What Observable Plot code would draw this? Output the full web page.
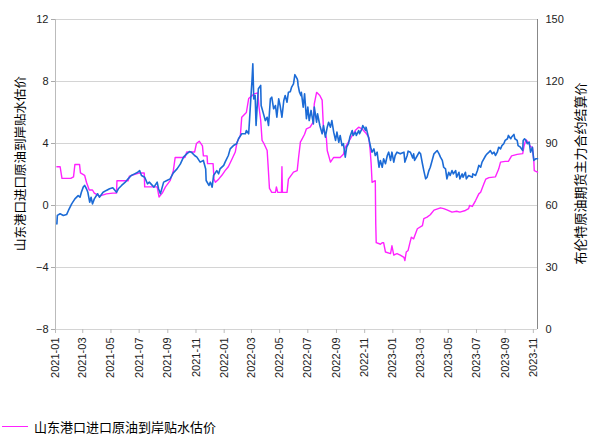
<!DOCTYPE html>
<html>
<head>
<meta charset="utf-8">
<script src="https://cdn.jsdelivr.net/npm/d3@7"></script>
<script src="https://cdn.jsdelivr.net/npm/@observablehq/plot@0.6"></script>
<style>
body { margin:0; background:#fff; }
#wrap { position:relative; width:599px; height:435px; overflow:hidden; }
#legend { position:absolute; left:2px; top:419px; height:15px; line-height:15px; display:flex; align-items:center; font:13px "Noto Sans CJK SC", sans-serif; color:#000; }
#legend .sw { width:26px; height:0; border-top:1.6px solid #f2f; margin-right:6px; }
</style>
</head>
<body>
<div id="wrap"><div id="chart"></div><div id="legend"><span class="sw"></span><span>山东港口进口原油到岸贴水估价</span></div></div>
<script>
// 山东港口进口原油到岸贴水估价 (left axis)
const premiumData = [
["2021-01-04",2.5],["2021-01-11",2.5],["2021-01-15",1.75],["2021-02-03",1.75],["2021-02-09",1.85],
["2021-02-12",2.65],["2021-02-22",2.65],["2021-02-24",2.1],["2021-03-05",1.95],["2021-03-09",1.5],
["2021-03-15",1.0],["2021-03-22",1.0],["2021-03-26",0.8],["2021-04-06",0.6],["2021-04-21",0.75],
["2021-05-05",0.8],["2021-05-13",0.8],["2021-05-14",1.6],["2021-06-07",1.6],["2021-06-10",1.9],
["2021-07-02",2.1],["2021-07-12",2.1],["2021-07-13",1.2],["2021-08-09",1.2],["2021-08-13",0.55],
["2021-08-20",0.8],["2021-08-27",1.2],["2021-09-06",1.6],["2021-09-13",2.25],["2021-09-17",3.1],
["2021-10-08",3.1],["2021-10-12",3.45],["2021-10-29",3.45],["2021-11-02",4.0],["2021-11-08",4.15],
["2021-11-15",3.85],["2021-11-17",3.2],["2021-11-25",3.2],["2021-11-26",2.7],["2021-12-08",2.7],
["2021-12-10",1.7],["2021-12-13",1.5],["2021-12-20",1.7],["2021-12-27",1.95],["2022-01-03",2.25],
["2022-01-10",2.5],["2022-01-18",3.0],["2022-01-25",3.45],["2022-01-29",4.1],["2022-02-05",4.5],
["2022-02-08",5.7],["2022-02-18",6.0],["2022-02-23",6.9],["2022-03-07",7.2],["2022-03-15",7.27],
["2022-03-17",6.45],["2022-03-21",5.5],["2022-03-24",4.2],["2022-03-28",4.0],["2022-04-04",3.55],
["2022-04-06",2.6],["2022-04-09",1.1],["2022-04-14",0.85],["2022-04-22",0.85],["2022-04-24",1.2],
["2022-04-27",0.85],["2022-05-05",0.85],["2022-05-06",2.5],["2022-05-07",0.85],["2022-05-17",0.85],
["2022-05-20",1.7],["2022-05-31",2.15],["2022-06-08",2.25],["2022-06-11",3.1],["2022-06-15",4.1],
["2022-06-17",4.2],["2022-06-24",4.6],["2022-06-28",4.95],["2022-07-06",5.05],["2022-07-13",5.4],
["2022-07-15",6.55],["2022-07-20",7.3],["2022-07-27",7.1],["2022-08-01",6.8],["2022-08-04",4.85],
["2022-08-10",4.4],["2022-08-12",3.55],["2022-08-19",2.8],["2022-08-26",3.1],["2022-09-09",3.1],
["2022-09-16",3.3],["2022-09-20",3.75],["2022-09-27",4.1],["2022-10-05",4.5],["2022-10-12",4.85],
["2022-10-19",5.05],["2022-10-26",4.95],["2022-11-03",4.7],["2022-11-10",4.4],["2022-11-13",3.55],
["2022-11-15",2.7],["2022-11-17",1.5],["2022-11-24",1.6],["2022-11-25",-1.2],["2022-11-26",-2.4],
["2022-12-01",-2.45],["2022-12-05",-2.5],["2022-12-09",-2.4],["2022-12-12",-2.4],["2022-12-16",-3.0],
["2022-12-27",-3.1],["2022-12-30",-2.6],["2023-01-03",-3.2],["2023-01-06",-3.15],["2023-01-10",-3.1],
["2023-01-17",-3.2],["2023-01-25",-3.35],["2023-01-27",-3.55],["2023-01-30",-3.0],["2023-02-03",-2.9],
["2023-02-07",-2.4],["2023-02-10",-2.05],["2023-02-15",-2.15],["2023-02-23",-1.5],["2023-03-06",-1.3],
["2023-03-09",-0.85],["2023-03-16",-0.75],["2023-03-23",-0.6],["2023-03-31",-0.3],["2023-04-14",-0.15],
["2023-04-21",-0.2],["2023-04-28",-0.28],["2023-05-09",-0.43],["2023-05-19",-0.37],["2023-05-26",-0.43],
["2023-06-07",-0.32],["2023-06-14",-0.2],["2023-06-16",0.0],["2023-06-22",-0.06],["2023-06-29",0.32],
["2023-07-06",0.75],["2023-07-10",0.85],["2023-07-17",1.4],["2023-07-21",1.7],["2023-07-28",1.8],
["2023-08-11",1.85],["2023-08-18",2.35],["2023-08-22",2.8],["2023-09-01",2.85],["2023-09-08",2.85],
["2023-09-15",3.2],["2023-09-27",3.3],["2023-10-09",3.35],["2023-10-12",3.85],["2023-10-16",4.25],
["2023-10-19",4.15],["2023-10-26",3.8],["2023-10-30",3.75],["2023-11-02",2.9],["2023-11-03",2.25],
["2023-11-10",2.15]
];
// 布伦特原油期货主力合约结算价 (right axis)
const brentData = [
["2021-01-04",51.1],["2021-01-05",55.2],["2021-01-11",56],["2021-01-18",55.2],["2021-01-25",55.6],
["2021-01-29",57.6],["2021-02-05",60.8],["2021-02-12",63.2],["2021-02-19",64.8],["2021-02-23",64],
["2021-02-26",66.4],["2021-03-02",68.9],["2021-03-05",69.7],["2021-03-09",68.1],["2021-03-12",66.4],
["2021-03-16",61.6],["2021-03-19",64],["2021-03-22",60.8],["2021-03-26",63.2],["2021-04-02",65.7],
["2021-04-06",64],["2021-04-14",66.4],["2021-04-21",67.3],["2021-04-28",68.1],["2021-05-05",68.6],
["2021-05-13",66.4],["2021-05-17",68.1],["2021-05-24",69.7],["2021-06-01",71.3],["2021-06-07",72.9],
["2021-06-14",74.5],["2021-06-21",75.3],["2021-06-28",76.1],["2021-07-02",76.9],["2021-07-06",74.5],
["2021-07-13",73.7],["2021-07-19",70.5],["2021-07-23",71.3],["2021-08-02",68.9],["2021-08-09",71.3],
["2021-08-12",68.1],["2021-08-16",65.7],["2021-08-23",71.3],["2021-08-30",72.1],["2021-09-06",72.9],
["2021-09-13",75.8],["2021-09-21",77.7],["2021-09-28",80],["2021-10-05",83.4],["2021-10-12",85],
["2021-10-18",86.1],["2021-10-22",85.8],["2021-10-29",84.2],["2021-11-03",83.4],["2021-11-10",81],
["2021-11-17",81.8],["2021-11-22",77.7],["2021-11-23",72.1],["2021-11-29",69.7],["2021-12-02",71.3],
["2021-12-06",68.9],["2021-12-09",74.5],["2021-12-16",76.9],["2021-12-20",75.3],["2021-12-23",77.7],
["2021-12-31",79.4],["2022-01-03",81],["2022-01-10",84.2],["2022-01-14",87.4],["2022-01-21",89],
["2022-01-28",89.9],["2022-02-01",92.3],["2022-02-08",94.7],["2022-02-16",94.7],["2022-02-18",96.3],
["2022-02-23",94.7],["2022-02-25",101.9],["2022-03-01",116.5],["2022-03-02",119.7],["2022-03-04",128.6],
["2022-03-06",111.6],["2022-03-09",113.2],["2022-03-11",98.7],["2022-03-14",110],["2022-03-16",116.5],
["2022-03-21",118.1],["2022-03-22",108.4],["2022-03-28",103.6],["2022-03-31",101.1],["2022-04-04",102.7],
["2022-04-07",98.7],["2022-04-11",111.6],["2022-04-14",112.4],["2022-04-18",106.8],["2022-04-22",108.4],
["2022-04-25",102.7],["2022-04-29",111.6],["2022-05-02",108.4],["2022-05-06",102.7],["2022-05-10",110.8],
["2022-05-13",113.2],["2022-05-17",110],["2022-05-20",114.8],["2022-05-24",115],["2022-05-27",117.3],
["2022-05-31",118.9],["2022-06-03",123.3],["2022-06-08",121.3],["2022-06-09",120.5],["2022-06-10",118.1],
["2022-06-13",114.8],["2022-06-16",113.2],["2022-06-17",114.8],["2022-06-21",107.6],["2022-06-24",114],
["2022-06-28",102],["2022-07-01",107.6],["2022-07-04",101.1],["2022-07-08",106],["2022-07-13",99.5],
["2022-07-15",107.6],["2022-07-20",100.3],["2022-07-22",104.4],["2022-07-27",98.7],["2022-08-01",94.7],
["2022-08-04",98.7],["2022-08-08",93.1],["2022-08-12",97.9],["2022-08-15",100.3],["2022-08-19",97.9],
["2022-08-22",101.1],["2022-08-26",95.5],["2022-08-30",91.5],["2022-09-02",95.5],["2022-09-06",90.6],
["2022-09-09",93.9],["2022-09-13",89],["2022-09-16",89.9],["2022-09-20",83.4],["2022-09-23",88.2],
["2022-09-27",89.9],["2022-09-30",93.1],["2022-10-05",96.3],["2022-10-07",93.9],["2022-10-12",95.5],
["2022-10-14",93.9],["2022-10-19",96.3],["2022-10-21",94.7],["2022-10-26",97.1],["2022-10-28",98.7],
["2022-11-03",96.3],["2022-11-04",97.9],["2022-11-10",92.3],["2022-11-14",88.2],["2022-11-17",85.8],
["2022-11-21",87.4],["2022-11-24",84.2],["2022-11-28",85.8],["2022-12-02",78.5],["2022-12-05",81.8],
["2022-12-09",78.5],["2022-12-12",82.6],["2022-12-16",80.2],["2022-12-20",84.2],["2022-12-23",85.8],
["2022-12-27",81.8],["2022-12-30",85.8],["2023-01-03",81],["2023-01-06",84.2],["2023-01-10",85.8],
["2023-01-17",85],["2023-01-25",85.8],["2023-01-27",81],["2023-02-01",84.2],["2023-02-03",86.3],
["2023-02-08",85.8],["2023-02-13",83],["2023-02-15",85],["2023-02-17",81.8],["2023-02-23",84.2],
["2023-02-27",85.8],["2023-03-02",85],["2023-03-06",80.2],["2023-03-09",76.9],["2023-03-13",72.9],
["2023-03-16",73.7],["2023-03-20",76.9],["2023-03-23",78.5],["2023-03-27",81.8],["2023-03-31",85],
["2023-04-07",86.6],["2023-04-11",85],["2023-04-14",83.4],["2023-04-18",81.8],["2023-04-21",78.5],
["2023-04-25",77.7],["2023-04-28",72.9],["2023-05-02",76.1],["2023-05-05",74.5],["2023-05-09",76.9],
["2023-05-12",75.3],["2023-05-17",76.9],["2023-05-19",73.7],["2023-05-24",76.1],["2023-05-26",72.9],
["2023-05-31",75.3],["2023-06-02",73.7],["2023-06-07",76.1],["2023-06-09",72.9],["2023-06-14",74.5],
["2023-06-22",73.7],["2023-06-23",75.3],["2023-06-29",74.5],["2023-07-03",76.9],["2023-07-06",79.4],
["2023-07-10",78.5],["2023-07-13",81],["2023-07-21",84.2],["2023-07-24",85],["2023-07-28",85.8],
["2023-07-31",86.6],["2023-08-04",85],["2023-08-08",85.8],["2023-08-11",84.2],["2023-08-15",85.8],
["2023-08-18",88.2],["2023-08-22",87.4],["2023-08-25",89],["2023-08-29",89.9],["2023-09-01",91.5],
["2023-09-06",92.3],["2023-09-08",93.9],["2023-09-13",92.3],["2023-09-15",93.1],["2023-09-20",94.4],
["2023-09-22",92.3],["2023-09-27",91.5],["2023-09-29",89],["2023-10-04",88.2],["2023-10-09",86.6],
["2023-10-10",91.5],["2023-10-13",92.3],["2023-10-16",91.5],["2023-10-19",89.9],["2023-10-23",90.7],
["2023-10-26",85.8],["2023-10-30",88.2],["2023-11-02",81.8],["2023-11-06",82.6],["2023-11-10",82.6]
];
const leftTicks = [-8, -4, 0, 4, 8, 12];
const rightTicks = [0, 30, 60, 90, 120, 150];
const leftTitle = "山东港口进口原油到岸贴水估价";
const rightTitle = "布伦特原油期货主力合约结算价";
const xStart = "2021-01-01", xEnd = "2023-11-10";

const parse = d3.utcParse("%Y-%m-%d");
const prem = premiumData.map(([d, v]) => ({date: parse(d), v}));
const brent = brentData.map(([d, v]) => ({date: parse(d), v}));
// map right-axis values (0..150) onto the left scale (-8..12)
const toLeft = b => b / 7.5 - 8;
const fromLeft = v => Math.round((v + 8) * 7.5);
const domainX = [parse(xStart), parse(xEnd)];

const chart = Plot.plot({
  width: 599,
  height: 412,
  marginLeft: 55,
  marginRight: 62,
  marginTop: 19,
  marginBottom: 83,
  style: {fontFamily: "'Liberation Sans', sans-serif", fontSize: "11px", color: "#222"},
  x: {type: "utc", domain: domainX},
  y: {domain: [-8, 12]},
  marks: [
    Plot.gridY(leftTicks, {stroke: "#d4d4d4", strokeOpacity: 1}),
    Plot.ruleX([domainX[0]], {stroke: "#bbb"}),
    Plot.ruleX([domainX[1]], {stroke: "#888"}),
    Plot.axisY(leftTicks, {anchor: "left", tickSize: 4, stroke: "#aaa", tickPadding: 3, label: null, fill: "#222"}),
    Plot.axisY(rightTicks.map(toLeft), {anchor: "right", tickSize: 0, tickPadding: 8, tickFormat: fromLeft, label: null, fill: "#222"}),
    Plot.axisX({ticks: d3.utcMonth.every(2), tickFormat: d3.utcFormat("%Y-%m"), tickRotate: -90, tickSize: 4, tickPadding: 4, stroke: "#bbb", label: null, fill: "#222"}),
    Plot.line(prem, {x: "date", y: "v", stroke: "#f2f", strokeWidth: 1.4}),
    Plot.line(brent, {x: "date", y: d => toLeft(d.v), stroke: "#1c6bd6", strokeWidth: 1.6}),
    Plot.text([leftTitle], {frameAnchor: "left", textAnchor: "middle", dx: -35, dy: -11, rotate: -90, text: d => d, fontSize: 12.5, fontFamily: "'Noto Sans CJK SC', sans-serif", fill: "#000"}),
    Plot.text([rightTitle], {frameAnchor: "right", textAnchor: "middle", dx: 43, dy: -1, rotate: -90, text: d => d, fontSize: 13, fontFamily: "'Noto Sans CJK SC', sans-serif", fill: "#000"})
  ]
});
document.getElementById("chart").appendChild(chart);
</script>
</body>
</html>
